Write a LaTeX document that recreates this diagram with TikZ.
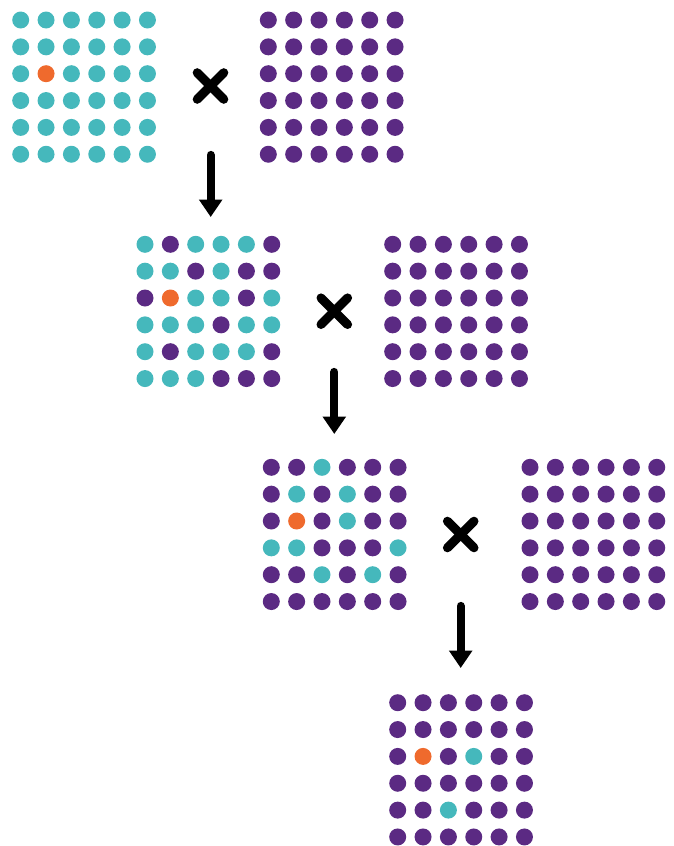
\documentclass[tikz,border=0pt]{standalone}
\usepackage{tikz}
\usetikzlibrary{arrows.meta}
\definecolor{dotT}{HTML}{45B8BC}
\definecolor{dotP}{HTML}{5B2A83}
\definecolor{dotO}{HTML}{EF6A2D}
\tikzset{
  times/.style={line width=9pt,line cap=round},
  down/.style={line width=8.3pt,line cap=round,->}
}
\newcommand{\dotgrid}[3]{%
  \foreach \row [count=\j from 0] in {#3}
    \foreach \c [count=\i from 0] in \row
      \fill [fill=dot\c] (#1+\i*25.35,#2+\j*26.85) circle (8.5pt);
}
\newcommand{\purplegrid}[2]{%
  \foreach \j in {0,...,5}
    \foreach \i in {0,...,5}
      \fill [fill=dotP] (#1+\i*25.35,#2+\j*26.85) circle (8.5pt);
}
\newcommand{\timessign}[2]{%
  \draw [times] (#1-13.3,#2-13.3) -- (#1+13.3,#2+13.3);
  \draw [times] (#1-13.3,#2+13.3) -- (#1+13.3,#2-13.3);
}
\begin{document}
\begin{tikzpicture}[line cap=round,line join=round,>={Triangle[width=22.5pt,length=17.5pt]},x=1pt,y=-1pt]
\useasboundingbox (0,0) rectangle (673,846);
\dotgrid{20.7}{20}{{T,T,T,T,T,T},{T,T,T,T,T,T},{T,O,T,T,T,T},{T,T,T,T,T,T},{T,T,T,T,T,T},{T,T,T,T,T,T}}
\purplegrid{268.3}{20}
\timessign{210.5}{86}
\dotgrid{145}{244.3}{{T,P,T,T,T,P},{T,T,P,T,P,P},{P,O,T,T,P,T},{T,T,T,P,T,T},{T,P,T,T,T,P},{T,T,T,P,P,P}}
\purplegrid{392.7}{244.3}
\timessign{334.3}{311.2}
\dotgrid{271.3}{467.3}{{P,P,T,P,P,P},{P,T,P,T,P,P},{P,O,P,T,P,P},{T,T,P,P,P,T},{P,P,T,P,T,P},{P,P,P,P,P,P}}
\purplegrid{530}{467.3}
\timessign{460.7}{534.5}
\dotgrid{397.7}{702.7}{{P,P,P,P,P,P},{P,P,P,P,P,P},{P,O,P,T,P,P},{P,P,P,P,P,P},{P,P,T,P,P,P},{P,P,P,P,P,P}}
\coordinate (s1) at (210.7,155);
\coordinate (e1) at (210.7,217);
\coordinate (s2) at (334.3,372);
\coordinate (e2) at (334.3,434);
\coordinate (s3) at (460.7,606);
\coordinate (e3) at (460.7,668);
\draw [down] (s1) -- (e1);
\draw [down] (s2) -- (e2);
\draw [down] (s3) -- (e3);
\end{tikzpicture}
\end{document}
